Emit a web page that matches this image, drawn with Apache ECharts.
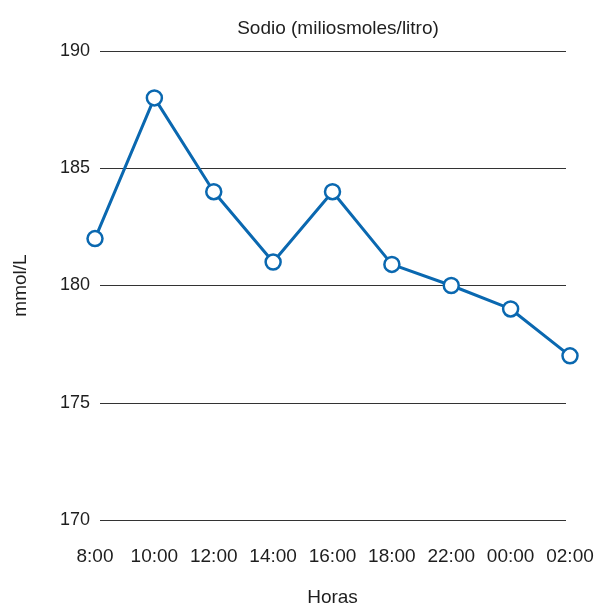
<!DOCTYPE html>
<html><head><meta charset="utf-8">
<script src="https://cdn.jsdelivr.net/npm/echarts@6/dist/echarts.min.js"></script>
<style>html,body{margin:0;padding:0;background:#fff}#c{width:602px;height:606px}</style>
</head><body><div id="c"></div>
<script>
const categories = ["8:00","10:00","12:00","14:00","16:00","18:00","22:00","00:00","02:00"];
const sodio = [182, 188, 184, 181, 184, 180.9, 180, 179, 177];
const yMin = 170, yMax = 190, yStep = 5;
const font = '"Liberation Sans Narrow", "Liberation Sans", Arial, sans-serif';
const txt = '#1e1e1e';
const chart = echarts.init(document.getElementById('c'));
chart.setOption({
  backgroundColor: '#fff',
  animation: false,
  title: {text: 'Sodio (miliosmoles/litro)', left: 333, top: 14, textAlign: 'center',
    textStyle: {fontFamily: font, fontSize: 19, fontWeight: 'normal', color: txt}},
  grid: [
    {left: 100, right: 36, top: 51, bottom: 86, outerBoundsMode: 'none', containLabel: false},
    {left: 95, right: 32, top: 51, bottom: 86, outerBoundsMode: 'none', containLabel: false}
  ],
  xAxis: [
    {gridIndex: 0, type: 'category', data: categories, show: false},
    {gridIndex: 1, type: 'category', data: categories, boundaryGap: false,
      axisLine: {show: false}, axisTick: {show: false}, splitLine: {show: false},
      axisLabel: {margin: 27, fontFamily: font, fontSize: 19, color: txt, interval: 0},
      name: 'Horas', nameLocation: 'middle', nameGap: 68,
      nameTextStyle: {fontFamily: font, fontSize: 19, color: txt}}
  ],
  yAxis: [
    {gridIndex: 0, type: 'value', min: yMin, max: yMax, interval: yStep,
      axisLine: {show: false}, axisTick: {show: false},
      splitLine: {lineStyle: {color: '#333', width: 1}},
      axisLabel: {margin: 10, fontFamily: font, fontSize: 18, color: txt},
      name: 'mmol/L', nameLocation: 'middle', nameGap: 70, nameRotate: 90,
      nameTextStyle: {fontFamily: font, fontSize: 19, color: txt}},
    {gridIndex: 1, type: 'value', min: yMin, max: yMax, interval: yStep, show: false, splitLine: {show: false}}
  ],
  series: [{
    type: 'line', xAxisIndex: 1, yAxisIndex: 1, data: sodio,
    symbol: 'circle', symbolSize: 15,
    lineStyle: {color: '#0a68b0', width: 3},
    itemStyle: {color: '#fff', borderColor: '#0a68b0', borderWidth: 2.5},
    z: 5
  }]
});
</script></body></html>
